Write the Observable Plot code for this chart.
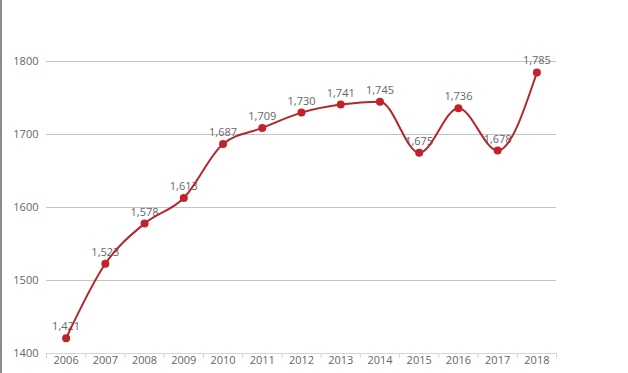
<!DOCTYPE html>
<html>
<head>
<meta charset="utf-8">
<script src="https://cdn.jsdelivr.net/npm/d3@7"></script>
<script src="https://cdn.jsdelivr.net/npm/@observablehq/plot@0.6"></script>
<style>
  html, body { margin: 0; padding: 0; background: #fff; }
  #wrap { position: relative; width: 628px; height: 373px; overflow: hidden; }
  #border { position: absolute; left: 0; top: 0; width: 2px; height: 373px; background: #8c8c8c; }
</style>
</head>
<body>
<div id="wrap"><div id="chart"></div><div id="border"></div></div>
<script>
const years = [2006, 2007, 2008, 2009, 2010, 2011, 2012, 2013, 2014, 2015, 2016, 2017, 2018];
const values = [1421, 1523, 1578, 1613, 1687, 1709, 1730, 1741, 1745, 1675, 1736, 1678, 1785];
const yTicks = [1400, 1500, 1600, 1700, 1800];

const data = years.map((year, i) => ({year, value: values[i]}));
const edges = years.map(y => y - 0.5).concat([years[years.length - 1] + 0.5]);
const fmt = d3.format(",");
const lineColor = "#b3272d";

const chart = Plot.plot({
  width: 628,
  height: 373,
  marginLeft: 46,
  marginRight: 72,
  marginTop: 61,
  marginBottom: 20,
  style: {fontFamily: "'Open Sans', sans-serif", fontSize: "11px", color: "#666", background: "#fff"},
  x: {type: "linear", domain: [edges[0], edges[edges.length - 1]]},
  y: {domain: [1400, 1800]},
  marks: [
    Plot.gridY(yTicks.slice(1), {stroke: "#c4c4c4", strokeOpacity: 1}),
    Plot.ruleY([1400], {stroke: "#ccd6eb"}),
    Plot.axisY(yTicks, {tickSize: 0, tickPadding: 8, tickFormat: d => String(d), label: null, fill: "#666", fontSize: 11}),
    Plot.axisX(edges, {tickSize: 5, stroke: "#ccd6eb", tickFormat: () => "", label: null}),
    Plot.axisX(years, {tickSize: 0, tickPadding: 3, tickFormat: d => String(d), label: null, fill: "#666", fontSize: 11}),
    Plot.text(data, {x: "year", y: "value", text: d => fmt(d.value), dy: -11.5, fill: "#666", fontSize: 11}),
    Plot.line(data, {x: "year", y: "value", curve: "monotone-x", stroke: lineColor, strokeWidth: 2}),
    Plot.dot(data, {x: "year", y: "value", r: 4, fill: "#c0232b", stroke: "none"})
  ]
});
document.getElementById("chart").appendChild(chart);
</script>
</body>
</html>
